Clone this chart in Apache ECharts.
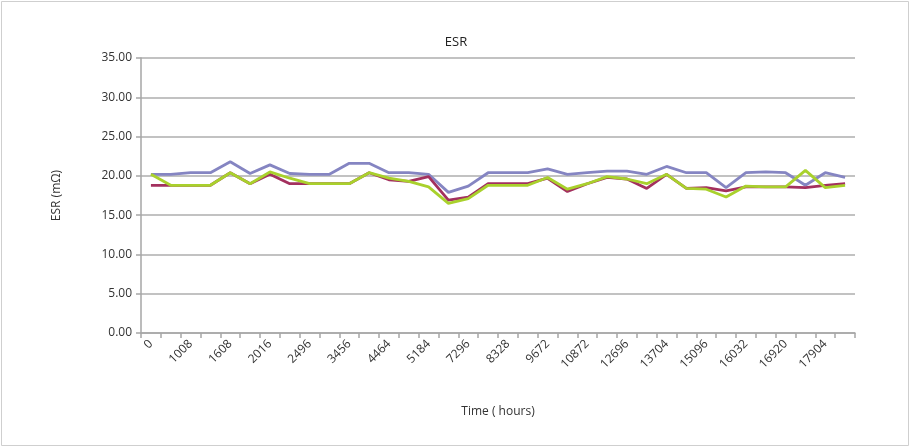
<!DOCTYPE html>
<html><head><meta charset="utf-8">
<script src="https://cdn.jsdelivr.net/npm/echarts@6/dist/echarts.min.js"></script>
<style>html,body{margin:0;padding:0;background:#fff}#c{width:912px;height:448px}</style>
</head><body><div id="c"></div>
<script>
var categories = ['0','504','1008','1344','1608','1848','2016','2328','2496','2976','3456','3960','4464','4800','5184','6240','7296','7800','8328','9000','9672','10272','10872','11784','12696','13200','13704','14400','15096','15564','16032','16476','16920','17412','17904','18400'];
var seriesPurple = [20.2,20.2,20.4,20.4,21.8,20.3,21.4,20.3,20.2,20.2,21.6,21.6,20.4,20.4,20.2,17.9,18.7,20.4,20.4,20.4,20.9,20.2,20.4,20.6,20.6,20.2,21.2,20.4,20.4,18.5,20.4,20.5,20.4,18.8,20.4,19.8];
var seriesRed = [18.8,18.8,18.8,18.8,20.4,19.0,20.2,19.0,19.0,19.0,19.0,20.4,19.5,19.3,19.9,16.9,17.3,19.0,19.0,19.0,19.7,18.0,19.0,19.8,19.6,18.4,20.2,18.4,18.5,18.1,18.6,18.6,18.6,18.5,18.8,19.0];
var seriesGreen = [20.2,18.8,18.8,18.8,20.4,19.0,20.5,19.7,19.0,19.0,19.0,20.4,19.7,19.3,18.6,16.5,17.1,18.8,18.8,18.8,19.8,18.3,19.0,19.9,19.6,19.0,20.2,18.4,18.3,17.3,18.7,18.6,18.6,20.7,18.5,18.8];
var yTicks = {min:0, max:35, interval:5};

var chart = echarts.init(document.getElementById('c'), null, {renderer:'canvas'});
var font = 'Open Sans, Liberation Sans, sans-serif';
function mk(name, data, color){
  return {name:name, type:'line', data:data, symbol:'none', smooth:false,
    lineStyle:{color:color, width:2.8}, itemStyle:{color:color}, animation:false};
}
chart.setOption({
  animation:false,
  backgroundColor:'#ffffff',
  title:{text:'ESR', left:'center', top:31, textStyle:{fontFamily:font, fontSize:13, fontWeight:'normal', color:'#222'}},
  graphic:[{type:'rect', shape:{x:1.5, y:1.5, width:907, height:444}, style:{fill:'none', stroke:'#cfcfcf', lineWidth:1}, silent:true}],
  grid:{left:141, right:57, top:58, bottom:115},
  xAxis:{type:'category', data:categories, boundaryGap:true,
    name:'Time ( hours)', nameLocation:'middle', nameGap:73,
    nameTextStyle:{fontFamily:font, fontSize:12, color:'#333'},
    axisLine:{lineStyle:{color:'#a6a6a6', width:1.5}},
    axisTick:{show:true, interval:0, length:5, lineStyle:{color:'#a6a6a6', width:1.5}},
    axisLabel:{interval:1, rotate:45, fontFamily:font, fontSize:12, color:'#333', margin:9},
    splitLine:{show:false}},
  yAxis:{type:'value', min:yTicks.min, max:yTicks.max, interval:yTicks.interval,
    name:'ESR (m\u03A9)', nameLocation:'middle', nameGap:78, nameRotate:90,
    nameTextStyle:{fontFamily:font, fontSize:12, color:'#333'},
    axisLine:{show:true, lineStyle:{color:'#a6a6a6', width:1.5}},
    axisTick:{show:true, length:5, lineStyle:{color:'#a6a6a6', width:1.5}},
    axisLabel:{formatter:function(v){return v.toFixed(2);}, fontFamily:font, fontSize:12, color:'#333', margin:9},
    splitLine:{show:true, lineStyle:{color:'#c2c2c2', width:2}}},
  series:[
    mk('Sample 1', seriesPurple, '#8585c2'),
    mk('Sample 2', seriesRed, '#a3305e'),
    mk('Sample 3', seriesGreen, '#a9d12c')
  ]
});
</script></body></html>
